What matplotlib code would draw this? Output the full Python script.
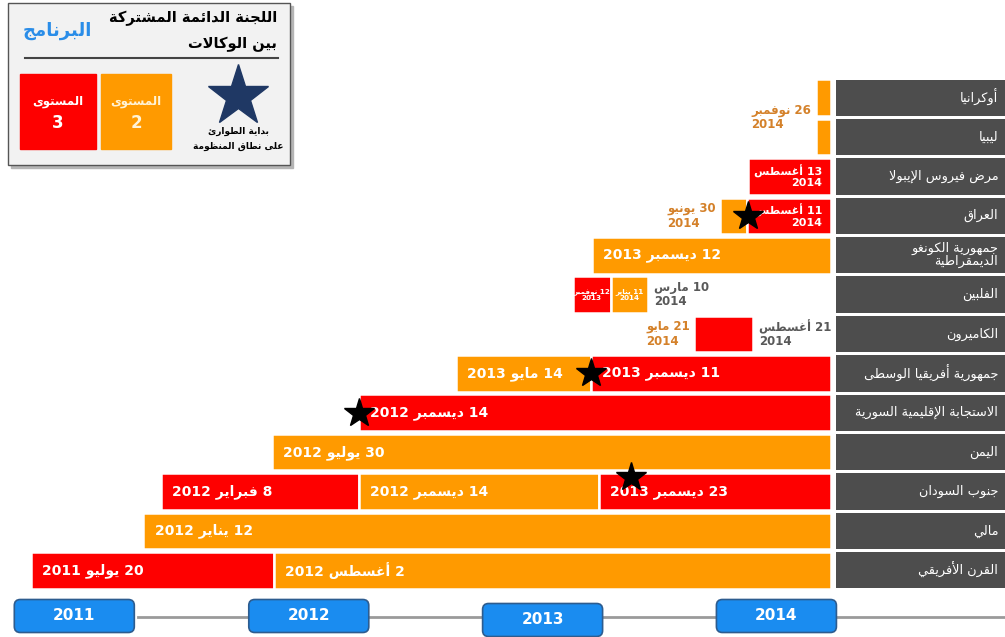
import datetime as dt
import matplotlib.pyplot as plt
import matplotlib.dates as mdates
from matplotlib.patches import Rectangle, FancyBboxPatch

plt.rcParams['font.family'] = ['DejaVu Sans']

# matplotlib has no arabic joining / bidi, so shape words by hand
FOUR = {'ئ': 0xFE89, 'ب': 0xFE8F, 'ت': 0xFE95, 'ث': 0xFE99, 'ج': 0xFE9D, 'ح': 0xFEA1,
        'خ': 0xFEA5, 'س': 0xFEB1, 'ش': 0xFEB5, 'ص': 0xFEB9, 'ض': 0xFEBD, 'ط': 0xFEC1,
        'ظ': 0xFEC5, 'ع': 0xFEC9, 'غ': 0xFECD, 'ف': 0xFED1, 'ق': 0xFED5, 'ك': 0xFED9,
        'ل': 0xFEDD, 'م': 0xFEE1, 'ن': 0xFEE5, 'ه': 0xFEE9, 'ي': 0xFEF1}
TWO = {'آ': 0xFE81, 'أ': 0xFE83, 'ؤ': 0xFE85, 'إ': 0xFE87, 'ا': 0xFE8D, 'ة': 0xFE93,
       'د': 0xFEA9, 'ذ': 0xFEAB, 'ر': 0xFEAD, 'ز': 0xFEAF, 'و': 0xFEED, 'ى': 0xFEEF}
LAM_ALEF = {'آ': 0xFEF5, 'أ': 0xFEF7, 'إ': 0xFEF9, 'ا': 0xFEFB}


def shape_word(word):
    units = []
    i = 0
    while i < len(word):
        c = word[i]
        if c == 'ل' and i + 1 < len(word) and word[i + 1] in LAM_ALEF:
            units.append((2, LAM_ALEF[word[i + 1]]))
            i += 2
            continue
        if c in FOUR:
            units.append((4, FOUR[c]))
        elif c in TWO:
            units.append((2, TWO[c]))
        elif c == 'ء':
            units.append((1, 0xFE80))
        else:
            units.append((0, c))
        i += 1
    out = []
    for k, (kind, base) in enumerate(units):
        if kind == 0:
            out.append(base)
            continue
        prev_ok = kind != 1 and k > 0 and units[k - 1][0] == 4
        next_ok = kind == 4 and k + 1 < len(units) and units[k + 1][0] in (2, 4)
        if prev_ok and next_ok:
            off = 3
        elif prev_ok:
            off = 1
        elif next_ok:
            off = 2
        else:
            off = 0
        out.append(chr(base + off))
    return ''.join(out)


def ar(text):
    lines = []
    for line in text.split('\n'):
        words = []
        for w in line.split(' ')[::-1]:
            if any('\u0600' <= ch <= '\u06ff' for ch in w):
                w = shape_word(w)[::-1]
            words.append(w)
        lines.append(' '.join(words))
    return '\n'.join(lines)


D = dt.date
months = {1: 'يناير', 2: 'فبراير', 3: 'مارس', 5: 'مايو', 6: 'يونيو', 7: 'يوليو',
          8: 'أغسطس', 11: 'نوفمبر', 12: 'ديسمبر'}

rows = ['أوكرانيا', 'ليبيا', 'مرض فيروس الإيبولا', 'العراق', 'جمهورية الكونغو\nالديمقراطية',
        'الفلبين', 'الكاميرون', 'جمهورية أفريقيا الوسطى', 'الاستجابة الإقليمية السورية',
        'اليمن', 'جنوب السودان', 'مالي', 'القرن الأفريقي']
report_date = D(2014, 12, 20)
years = [2011, 2012, 2013, 2014]

seg_row = [0, 1, 2, 3, 3, 4, 5, 5, 6, 7, 7, 8, 9, 10, 10, 10, 11, 12, 12]
seg_start = [D(2014, 11, 26), D(2014, 11, 26), D(2014, 8, 13), D(2014, 6, 30), D(2014, 8, 11),
             D(2013, 12, 12), D(2013, 11, 12), D(2014, 1, 11), D(2014, 5, 21), D(2013, 5, 14),
             D(2013, 12, 11), D(2012, 12, 14), D(2012, 7, 30), D(2012, 2, 8), D(2012, 12, 14),
             D(2013, 12, 23), D(2012, 1, 12), D(2011, 7, 20), D(2012, 8, 2)]
seg_end = [None, None, None, D(2014, 8, 11), None, None, D(2014, 1, 11), D(2014, 3, 10),
           D(2014, 8, 21), D(2013, 12, 11), None, None, None, D(2012, 12, 14), D(2013, 12, 23),
           None, None, D(2012, 8, 2), None]
seg_level = [2, 2, 3, 2, 3, 2, 3, 2, 3, 2, 3, 3, 2, 3, 2, 3, 2, 3, 2]

note_row = [0.5, 2, 3, 3, 4, 5, 5, 5, 6, 6, 7, 7, 8, 9, 10, 10, 10, 11, 12, 12]
note_date = [D(2014, 11, 26), D(2014, 8, 13), D(2014, 6, 30), D(2014, 8, 11), D(2013, 12, 12),
             D(2013, 11, 12), D(2014, 1, 11), D(2014, 3, 10), D(2014, 5, 21), D(2014, 8, 21),
             D(2013, 5, 14), D(2013, 12, 11), D(2012, 12, 14), D(2012, 7, 30), D(2012, 2, 8),
             D(2012, 12, 14), D(2013, 12, 23), D(2012, 1, 12), D(2011, 7, 20), D(2012, 8, 2)]
note_kind = ['before', 'end', 'before', 'end', 'in', 'box', 'box', 'after', 'before', 'after',
             'in', 'in', 'in', 'in', 'in', 'in', 'in', 'in', 'in', 'in']

# system-wide emergency (star) dates
star_row = [3, 7, 8, 10]
star_date = [D(2014, 8, 12), D(2013, 12, 11), D(2012, 12, 14), D(2014, 2, 11)]

RED = '#fe0000'
ORANGE = '#ff9a00'
level_color = {2: ORANGE, 3: RED}

W, H = 1005, 637
fig = plt.figure(figsize=(W / 100, H / 100), dpi=100)
top_px, bot_px, bar_right = 78, 590, 836
ax = fig.add_axes([0, 1 - bot_px / H, bar_right / W, (bot_px - top_px) / H])
ax.set_xlim(mdates.date2num(D(2011, 6, 2)), mdates.date2num(D(2014, 12, 28)))
ax.set_ylim(len(rows) - 0.5, -0.5)
ax.axis('off')

seg_ends = {}
for r, s, e, lv in zip(seg_row, seg_start, seg_end, seg_level):
    e = e or report_date
    seg_ends[(r, s)] = e
    x0 = mdates.date2num(s)
    ax.barh(r, mdates.date2num(e) - x0, left=x0, height=0.93,
            color=level_color[lv], edgecolor='white', linewidth=1.8)

for r, d, kind in zip(note_row, note_date, note_kind):
    first = f'{d.day} {months[d.month]}'
    x = mdates.date2num(d)
    if kind == 'in':
        ax.annotate(ar(f'{first} {d.year}'), (x, r), xytext=(8, 0), textcoords='offset points',
                    ha='left', va='center', color='white', fontsize=10, fontweight='bold')
        continue
    txt = ar(f'{first}\n{d.year}')
    if kind == 'end':
        ax.annotate(txt, (mdates.date2num(report_date), r), xytext=(-6, 0),
                    textcoords='offset points', ha='right', va='center', multialignment='right',
                    color='white', fontsize=8, fontweight='bold', linespacing=1.1)
    elif kind == 'before':
        ax.annotate(txt, (x, r), xytext=(-3, 0), textcoords='offset points', ha='right',
                    va='center', multialignment='left', color='#d4812a', fontsize=8.5,
                    fontweight='bold', linespacing=1.15)
    elif kind == 'after':
        ax.annotate(txt, (x, r), xytext=(4, 0), textcoords='offset points', ha='left',
                    va='center', multialignment='left', color='#595959', fontsize=8.5,
                    fontweight='bold', linespacing=1.15)
    else:
        mid = (x + mdates.date2num(seg_ends[(int(r), d)])) / 2
        ax.text(mid, r, txt, ha='center', va='center', multialignment='center', color='white',
                fontsize=5.2, fontweight='bold', linespacing=1.15)

for i, (r, d) in enumerate(zip(star_row, star_date)):
    dy = -0.37 if i == 3 else 0
    ax.plot(mdates.date2num(d), r + dy, marker='*', ms=22, color='black', zorder=5)

# row labels column
axl = fig.add_axes([bar_right / W, 1 - bot_px / H, 1 - bar_right / W, (bot_px - top_px) / H],
                   sharey=ax)
axl.set_xlim(0, 1)
axl.barh(range(len(rows)), 1, left=0, height=0.92, color='#4d4d4d')
for i, name in enumerate(rows):
    axl.text(0.96, i, ar(name), ha='right', va='center', color='white', fontsize=9.3,
             multialignment='right', linespacing=0.95)
axl.axis('off')

# overlay in pixel units: legend box and year timeline
ov = fig.add_axes([0, 0, 1, 1])
ov.set_xlim(0, W)
ov.set_ylim(H, 0)
ov.axis('off')

ov.add_patch(Rectangle((11, 6), 282, 162, color='#b5b5b5', zorder=1))
ov.add_patch(Rectangle((8, 3), 282, 162, fc='#f2f2f2', ec='#555555', lw=1, zorder=2))
ov.text(277, 18, ar('اللجنة الدائمة المشتركة'), ha='right', va='center', fontsize=10.5,
        fontweight='bold', zorder=3)
ov.text(277, 44, ar('بين الوكالات'), ha='right', va='center', fontsize=10.5,
        fontweight='bold', zorder=3)
ov.text(57, 31, ar('البرنامج'), ha='center', va='center', fontsize=13, fontweight='bold',
        color='#2a8de8', zorder=3)
ov.plot([25, 278], [58, 58], color='#444444', lw=1.5, zorder=3)
ov.add_patch(Rectangle((20, 74), 76, 75, color=RED, zorder=3))
ov.add_patch(Rectangle((101, 74), 70, 75, color=ORANGE, zorder=3))
for cx, lv, tc in [(58, '3', 'white'), (136, '2', '#fff3d6')]:
    ov.text(cx, 101, ar('المستوى'), ha='center', va='center', fontsize=8.5, fontweight='bold',
            color=tc, zorder=4)
    ov.text(cx, 123, lv, ha='center', va='center', fontsize=12, fontweight='bold',
            color=tc, zorder=4)
ov.plot(238, 96, marker='*', ms=46, color='#1f3864', zorder=4)
ov.text(238, 131, ar('بداية الطوارئ'), ha='center', va='center', fontsize=6.5,
        fontweight='bold', zorder=4)
ov.text(238, 146, ar('على نطاق المنظومة'), ha='center', va='center', fontsize=6.5,
        fontweight='bold', zorder=4)

ov.plot([138, W], [617, 617], color='#9a9a9a', lw=2, zorder=1)
for yr in years:
    cx = ax.transData.transform((mdates.date2num(D(yr, 9, 26)), 0))[0]
    cy = 620 if yr == 2013 else 616
    ov.add_patch(FancyBboxPatch((cx - 60, cy - 16.5), 120, 33,
                                boxstyle='round,pad=0,rounding_size=6',
                                fc='#1a8cf0', ec='#2d5c8f', lw=1.2, zorder=2))
    ov.text(cx, cy, str(yr), ha='center', va='center', color='white', fontsize=11,
            fontweight='bold', zorder=3)

fig.savefig('out.png', dpi=100)
